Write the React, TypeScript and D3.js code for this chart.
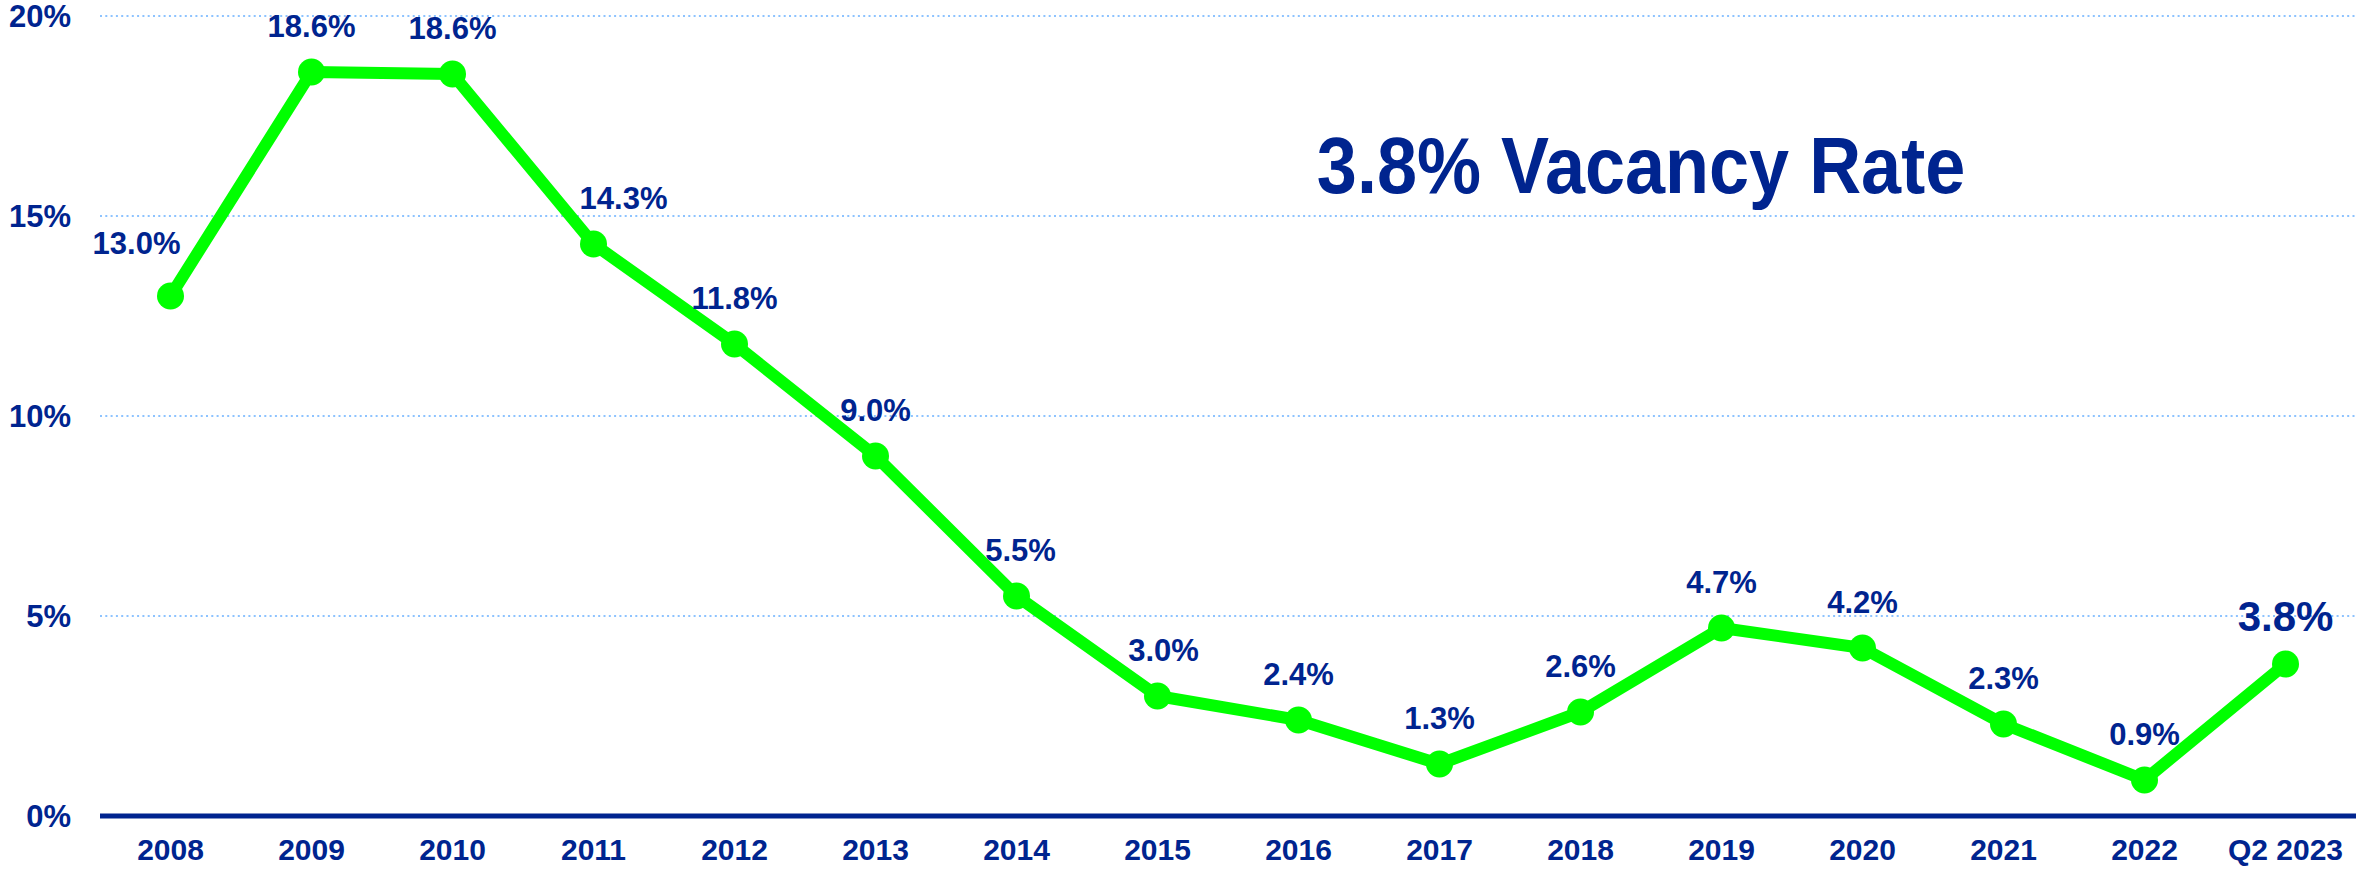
import React from "react";
import * as d3 from "d3";

const categories: string[] = [
  "2008", "2009", "2010", "2011", "2012", "2013", "2014", "2015",
  "2016", "2017", "2018", "2019", "2020", "2021", "2022", "Q2 2023",
];
const vacancyRates: number[] = [
  13.0, 18.6, 18.55, 14.3, 11.8, 9.0, 5.5, 3.0, 2.4, 1.3, 2.6, 4.7, 4.2, 2.3, 0.9, 3.8,
];
const yTicks: number[] = [0, 5, 10, 15, 20];
const titleText = "3.8% Vacancy Rate";

const W = 2356;
const H = 871;
const NAVY = "#00248F";
const GREEN = "#00FF00";
const GRID = "#8DC3FF";
const FONT = "'Liberation Sans', Arial, Helvetica, sans-serif";

export default function App() {
  const x = d3.scaleBand<string>().domain(categories).range([100, W]).padding(0);
  const y = d3.scaleLinear().domain([0, 20]).range([816, 16]);
  const cx = (c: string) => (x(c) as number) + x.bandwidth() / 2;
  const fmt = d3.format(".1f");

  const line = d3
    .line<number>()
    .x((_, i) => cx(categories[i]))
    .y((d) => y(d));

  const last = vacancyRates.length - 1;

  const labelDx = (i: number) => (i === 0 ? -34 : i === 3 ? 30 : i === 7 ? 6 : i === 6 ? 4 : 0);
  const labelDy = (i: number) => (i === 0 ? 42 : i === last ? 33 : 35);

  return (
    <svg
      width={W}
      height={H}
      style={{ position: "absolute", left: 0, top: 0, background: "#fff" }}
      fontFamily={FONT}
    >
      <rect x={0} y={0} width={W} height={H} fill="#fff" />
      {yTicks.filter((t) => t > 0).map((t) => (
        <line
          key={"g" + t}
          x1={100}
          x2={W}
          y1={y(t)}
          y2={y(t)}
          stroke={GRID}
          strokeWidth={2}
          strokeDasharray="2,3.3"
        />
      ))}
      {yTicks.map((t) => (
        <text
          key={"yl" + t}
          x={71}
          y={y(t) + 11}
          textAnchor="end"
          fontSize={31}
          fontWeight="bold"
          fill={NAVY}
        >
          {t + "%"}
        </text>
      ))}
      <line x1={100} x2={W} y1={y(0)} y2={y(0)} stroke={NAVY} strokeWidth={5} />
      {categories.map((c) => (
        <text
          key={"xl" + c}
          x={cx(c)}
          y={860}
          textAnchor="middle"
          fontSize={30}
          fontWeight="bold"
          fill={NAVY}
        >
          {c}
        </text>
      ))}
      <path
        d={line(vacancyRates) as string}
        fill="none"
        stroke={GREEN}
        strokeWidth={12}
        strokeLinejoin="round"
      />
      {vacancyRates.map((v, i) => (
        <circle key={"p" + i} cx={cx(categories[i])} cy={y(v)} r={13.5} fill={GREEN} />
      ))}
      {vacancyRates.map((v, i) => (
        <text
          key={"dl" + i}
          x={cx(categories[i]) + labelDx(i)}
          y={y(v) - labelDy(i)}
          textAnchor="middle"
          fontSize={i === last ? 42 : 31}
          fontWeight="bold"
          fill={NAVY}
        >
          {fmt(v) + "%"}
        </text>
      ))}
      <text
        transform="translate(1641,193) scale(0.9,1)"
        textAnchor="middle"
        fontSize={80}
        fontWeight="bold"
        fill={NAVY}
      >
        {titleText}
      </text>
    </svg>
  );
}
